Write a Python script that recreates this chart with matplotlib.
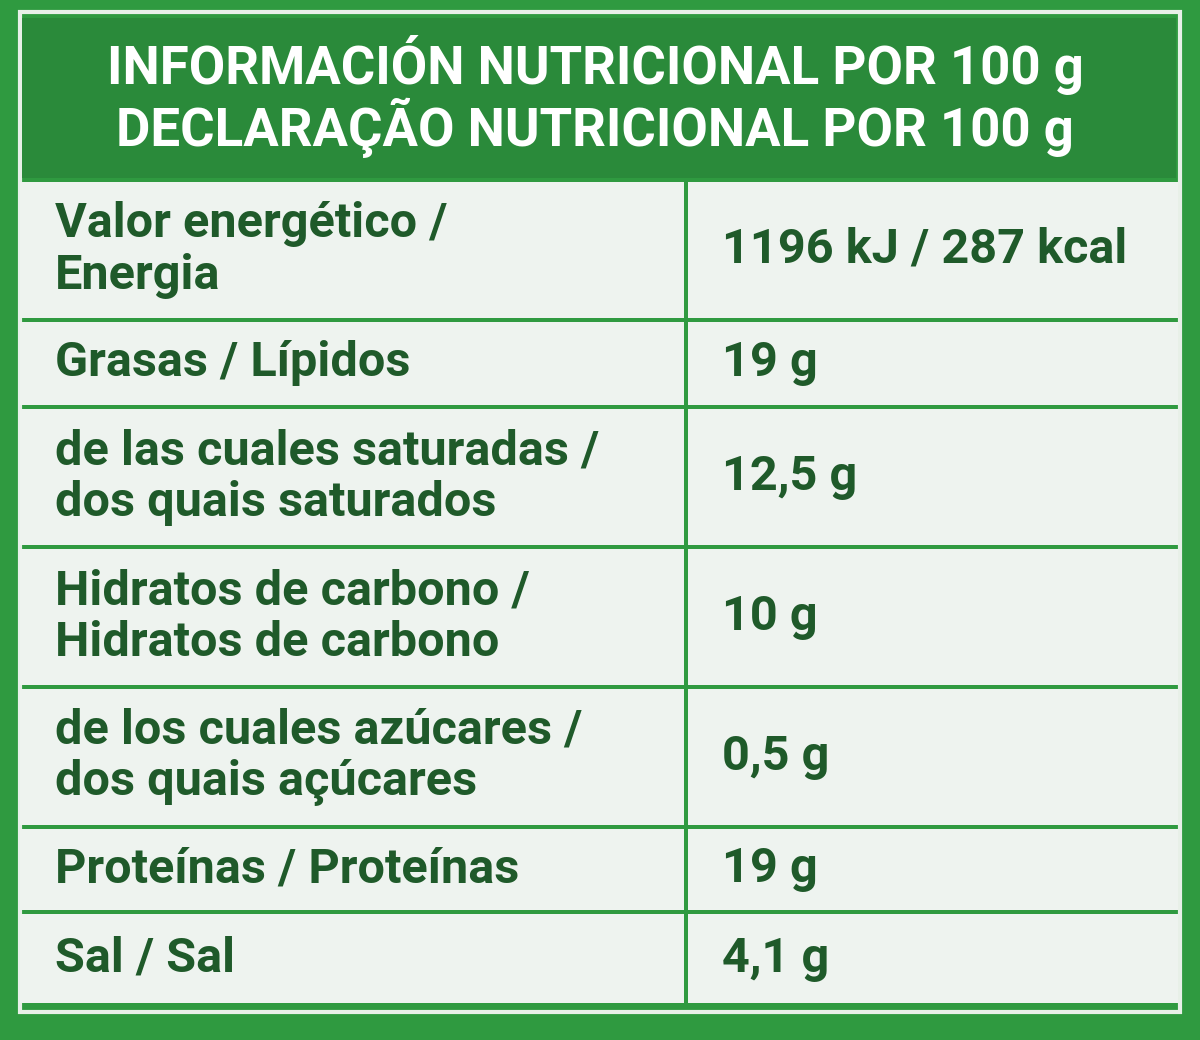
import matplotlib
matplotlib.use("Agg")
import matplotlib.pyplot as plt
from matplotlib.patches import Rectangle

title_lines = ["INFORMACIÓN NUTRICIONAL POR 100 g", "DECLARAÇÃO NUTRICIONAL POR 100 g"]
nutrients = ["Valor energético /\nEnergia", "Grasas / Lípidos",
             "de las cuales saturadas /\ndos quais saturados",
             "Hidratos de carbono /\nHidratos de carbono",
             "de los cuales azúcares /\ndos quais açúcares",
             "Proteínas / Proteínas", "Sal / Sal"]
amounts = ["1196 kJ / 287 kcal", "19 g", "12,5 g", "10 g", "0,5 g", "19 g", "4,1 g"]
row_edges = [180, 320, 407, 547, 687, 827, 912, 1005]

green = "#2f9a40"
dark = "#1f5a2a"
cell = "#eef3ef"

fig = plt.figure(figsize=(12, 10.4), dpi=100)
fig.patch.set_facecolor(green)
ax = fig.add_axes([0, 0, 1, 1])
ax.set_xlim(0, 1200); ax.set_ylim(1040, 0); ax.axis("off")

ax.add_patch(Rectangle((20, 12), 1160, 1000, fill=False, ec="#e8f0e8", lw=3))
ax.add_patch(Rectangle((22, 18), 1154, 160, fc="#2a8a3a", ec="none"))
for i, t in enumerate(title_lines):
    ax.text(595, 65 + i * 63, t, color="white", fontsize=38, fontweight="bold",
            family="Roboto", ha="center", va="center")

for i in range(len(nutrients)):
    y0, y1 = row_edges[i], row_edges[i + 1]
    ax.add_patch(Rectangle((20, y0 + 2), 664, y1 - y0 - 4, fc=cell, ec="none"))
    ax.add_patch(Rectangle((688, y0 + 2), 490, y1 - y0 - 4, fc=cell, ec="none"))
    ym = (y0 + y1) / 2
    ax.text(55, ym, nutrients[i], color=dark, fontsize=35, fontweight="bold",
            family="Roboto", ha="left", va="center", linespacing=1.15)
    ax.text(722, ym, amounts[i], color=dark, fontsize=35, fontweight="bold",
            family="Roboto", ha="left", va="center")

fig.savefig("out.png", dpi=100, facecolor=fig.get_facecolor())
